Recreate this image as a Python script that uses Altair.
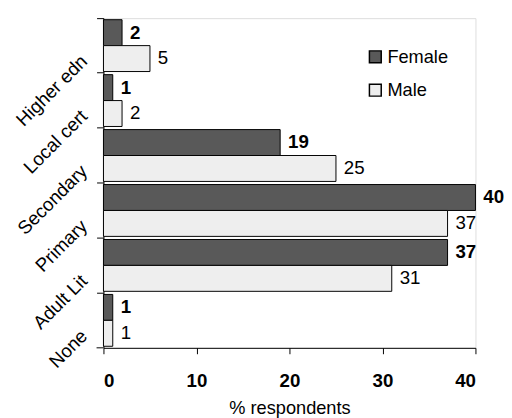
import altair as alt
import pandas as pd

categories = ["Higher edn", "Local cert", "Secondary", "Primary", "Adult Lit", "None"]
female = [2, 1, 19, 40, 37, 1]
male = [5, 2, 25, 37, 31, 1]
genders = ["Female", "Male"]
colors = ["#595959", "#eeeeee"]
x_ticks = [0, 10, 20, 30, 40]

rows = []
for c, f, m in zip(categories, female, male):
    rows.append({"cat": c, "sex": "Female", "val": f})
    rows.append({"cat": c, "sex": "Male", "val": m})
df = pd.DataFrame(rows)

W, H = 378, 335
FONT = "Liberation Sans"

y_enc = alt.Y(
    "cat:N",
    sort=categories,
    scale=alt.Scale(paddingInner=0, paddingOuter=0),
    axis=alt.Axis(
        title=None, bandPosition=0, labelOffset=13, labelAngle=-45,
        labelAlign="right", labelBaseline="middle", labelFontSize=19,
        labelFont=FONT, labelColor="black", tickSize=7, tickColor="black",
        domainColor="black", labelPadding=13, labelOverlap=False,
    ),
)
yoff = alt.YOffset("sex:N", sort=genders, scale=alt.Scale(paddingInner=0, paddingOuter=0.06))
x_enc = alt.X(
    "val:Q",
    scale=alt.Scale(domain=[0, 40], nice=False),
    axis=alt.Axis(
        values=x_ticks, title="% respondents", grid=False, tickSize=6,
        tickColor="black", domainColor="black", labelFontSize=19,
        labelFontWeight="bold", labelFont=FONT, labelColor="black",
        labelPadding=18, titleFontSize=18.5, titleFont=FONT,
        titleFontWeight="normal", titleColor="black", titlePadding=9,
    ),
)

base = alt.Chart(df)

bars = base.mark_bar(stroke="black", strokeWidth=1).encode(
    x=x_enc,
    y=y_enc,
    yOffset=yoff,
    color=alt.Color(
        "sex:N",
        sort=genders,
        scale=alt.Scale(domain=genders, range=colors),
        legend=alt.Legend(
            title=None, orient="none", legendX=267, legendY=30,
            symbolType="square", symbolSize=144, symbolStrokeColor="black",
            symbolStrokeWidth=1.5, labelFontSize=18.5, labelFont=FONT,
            labelColor="black", rowPadding=15, labelOffset=3,
        ),
    ),
)

lab_f = base.transform_filter(alt.datum.sex == "Female").mark_text(
    align="left", baseline="middle", dx=8, fontSize=19, fontWeight="bold",
    font=FONT, color="black",
).encode(x="val:Q", y=alt.Y("cat:N", sort=categories), yOffset=alt.YOffset("sex:N", sort=genders), text="val:Q")

lab_m = base.transform_filter(alt.datum.sex == "Male").mark_text(
    align="left", baseline="middle", dx=8, fontSize=19,
    font=FONT, color="black",
).encode(x="val:Q", y=alt.Y("cat:N", sort=categories), yOffset=alt.YOffset("sex:N", sort=genders), text="val:Q")

bottom_tick = alt.Chart(pd.DataFrame({"a": [0]})).mark_rule(color="black").encode(
    x=alt.value(-7), x2=alt.value(0), y=alt.value(H)
)

chart = alt.layer(bars, lab_f, lab_m, bottom_tick).properties(
    width=W, height=H,
    padding={"left": 97, "top": 7, "right": 29, "bottom": 68},
    autosize=alt.AutoSizeParams(type="none"),
).configure_view(stroke=None).configure(background="white")

chart.save("out.html", embed_options={"renderer": "svg", "actions": False})
